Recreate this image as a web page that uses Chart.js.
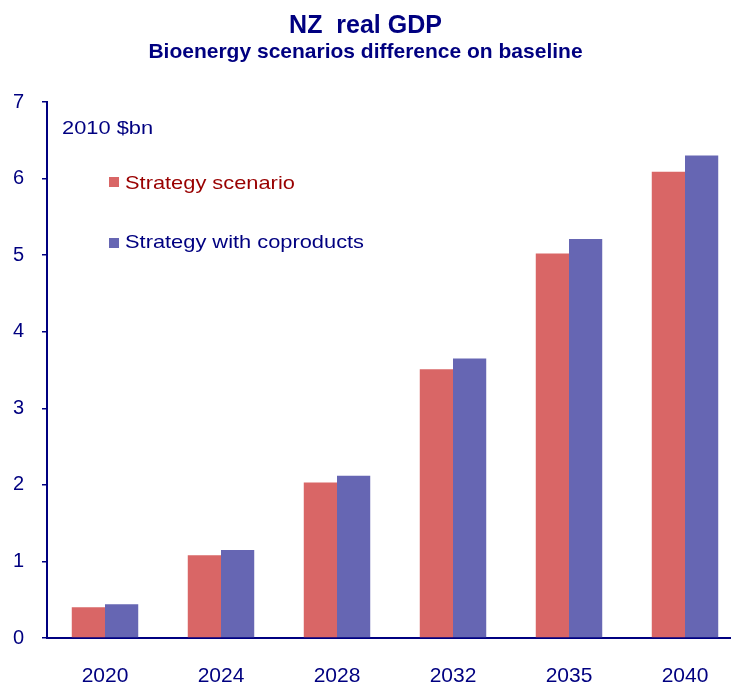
<!DOCTYPE html>
<html>
<head>
<meta charset="utf-8">
<script src="https://cdn.jsdelivr.net/npm/chart.js@4"></script>
<style>
  html, body { margin: 0; padding: 0; background: #fff; overflow: hidden; }
  #wrap { position: relative; width: 731px; height: 685px; overflow: hidden; font-family: "Liberation Sans", Arial, sans-serif; }
  #chart { position: absolute; left: 0; top: 0; }
  .title, .subtitle { position: absolute; left: 0; width: 731px; text-align: center; color: #000080; font-weight: bold; line-height: 1; white-space: nowrap; }
  .title { top: 12px; font-size: 25px; }
  .subtitle { top: 40px; font-size: 21px; }
  .note { position: absolute; font-size: 18.5px; line-height: 1; white-space: nowrap; transform: scaleX(1.18); transform-origin: left top; }
  .box { position: absolute; width: 10px; height: 10px; }
</style>
</head>
<body>
<div id="wrap">
  <canvas id="chart" width="745" height="685"></canvas>
  <div class="title">NZ&nbsp; real GDP</div>
  <div class="subtitle">Bioenergy scenarios difference on baseline</div>
  <div class="note" style="left:62px; top:119px; color:#000080;">2010 $bn</div>
  <div class="box" style="left:109px; top:177px; background:#D96666;"></div>
  <div class="note" style="left:125px; top:174px; color:#990000;">Strategy scenario</div>
  <div class="box" style="left:109px; top:238px; background:#6666B3;"></div>
  <div class="note" style="left:125px; top:233px; color:#000080;">Strategy with coproducts</div>
</div>
<script>
// Données (milliards de $ 2010, écart au scénario de base)
const years = ['2020', '2024', '2028', '2032', '2035', '2040'];
const strategyScenario = [0.40, 1.08, 2.03, 3.51, 5.02, 6.09];
const strategyCoproducts = [0.44, 1.15, 2.12, 3.65, 5.21, 6.30];
const yMin = 0;
const yMax = 7;
const yStep = 1;

const navy = '#000080';

new Chart(document.getElementById('chart'), {
    type: 'bar',
    data: {
        labels: years,
        datasets: [{
            label: 'Strategy scenario',
            data: strategyScenario,
            backgroundColor: '#D96666',
            borderWidth: 0
        }, {
            label: 'Strategy with coproducts',
            data: strategyCoproducts,
            backgroundColor: '#6666B3',
            borderWidth: 0
        }]
    },
    options: {
        responsive: false,
        animation: false,
        devicePixelRatio: 1,
        categoryPercentage: 0.573,
        barPercentage: 1.0,
        layout: { padding: { top: 102, right: 2, bottom: 0, left: 0 } },
        plugins: {
            legend: { display: false },
            tooltip: { enabled: false }
        },
        scales: {
            x: {
                grid: { display: false, drawTicks: false },
                border: { display: true, color: navy, width: 2 },
                ticks: {
                    color: navy,
                    padding: 26,
                    font: { family: 'Liberation Sans', size: 21 }
                },
                afterFit: (scale) => { scale.height = 47; }
            },
            y: {
                min: yMin,
                max: yMax,
                grid: { drawOnChartArea: false, drawTicks: true, tickLength: 5, color: navy, lineWidth: 1.5 },
                border: { display: true, color: navy, width: 2 },
                ticks: {
                    stepSize: yStep,
                    color: navy,
                    padding: 18,
                    font: { family: 'Liberation Sans', size: 20 }
                },
                afterFit: (scale) => { scale.width = 47; }
            }
        }
    }
});
</script>
</body>
</html>
